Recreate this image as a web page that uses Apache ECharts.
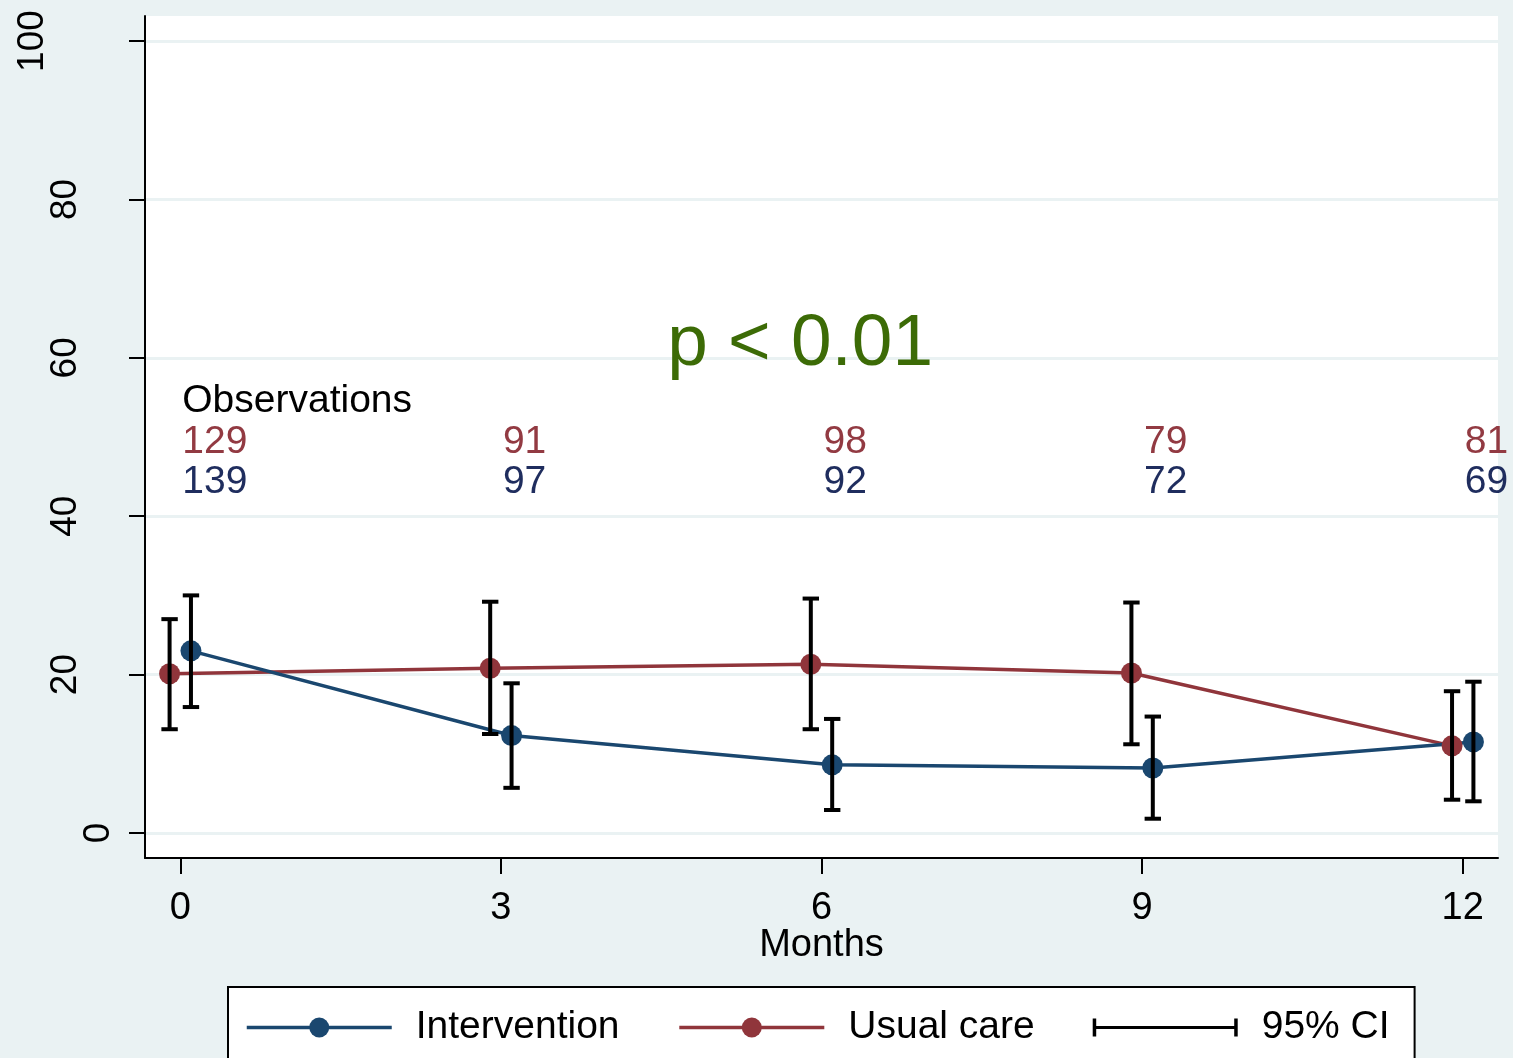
<!DOCTYPE html>
<html>
<head>
<meta charset="utf-8">
<title>Outcome by study arm over 12 months</title>
<style>
  html, body { margin: 0; padding: 0; background: #eaf2f3; }
  #chart { width: 1513px; height: 1058px; }
</style>
<script src="https://cdn.jsdelivr.net/npm/echarts@6/dist/echarts.min.js"></script>
</head>
<body>
<div id="chart"></div>
<script>
// ---- data ----
const months = [0, 3, 6, 9, 12];
const monthTicks = [0, 3, 6, 9, 12];
const percentTicks = [0, 20, 40, 60, 80, 100];

const interventionMean = [23.0, 12.3, 8.6, 8.2, 11.5];
const interventionLo   = [15.9, 5.7, 2.9, 1.8, 4.0];
const interventionHi   = [30.0, 18.9, 14.4, 14.7, 19.1];

const usualMean = [20.1, 20.8, 21.3, 20.2, 11.0];
const usualLo   = [13.1, 12.5, 13.1, 11.2, 4.2];
const usualHi   = [27.0, 29.2, 29.6, 29.1, 17.9];

const obsUsual        = [129, 91, 98, 79, 81];
const obsIntervention = [139, 97, 92, 72, 69];

const obsTitle  = 'Observations';
const pValueText = 'p < 0.01';

// ---- look ----
const FONT = '"Liberation Sans", Arial, "Helvetica Neue", sans-serif';
const NAVY = '#1a476f';
const CRANBERRY = '#90353b';
const OBS_RED = '#923a42';
const OBS_BLUE = '#1f2d5e';
const P_GREEN = '#3c6b06';
const BG = '#eaf2f3';

// the two arms are nudged apart on the month axis so the bars don't overlap
const dodge = 0.1;
// annotation rows (in axis units)
const titleRowY = 54.55, usualRowY = 49.3, interventionRowY = 44.3;
const pX = 5.8, pY = 61.6;

const chart = echarts.init(document.getElementById('chart'), null, { renderer: 'canvas' });

function ciRender(params, api) {
  const x = api.value(0);
  const lo = api.coord([x, api.value(1)]);
  const hi = api.coord([x, api.value(2)]);
  const half = 8.2;
  const style = { stroke: '#000', lineWidth: 4, fill: null, lineCap: 'butt' };
  return {
    type: 'group',
    children: [
      { type: 'line', shape: { x1: hi[0], y1: hi[1], x2: lo[0], y2: lo[1] }, style },
      { type: 'line', shape: { x1: hi[0] - half, y1: hi[1], x2: hi[0] + half, y2: hi[1] }, style },
      { type: 'line', shape: { x1: lo[0] - half, y1: lo[1], x2: lo[0] + half, y2: lo[1] }, style }
    ]
  };
}

function textSeries(points, texts, color, size, align, nudgeX) {
  return {
    type: 'custom',
    coordinateSystem: 'cartesian2d',
    silent: true,
    z: 6,
    data: points,
    renderItem: function (params, api) {
      const p = api.coord([api.value(0), api.value(1)]);
      return {
        type: 'text',
        x: p[0] + nudgeX,
        y: p[1],
        style: {
          text: String(texts[params.dataIndex]),
          fill: color,
          fontSize: size,
          fontFamily: FONT,
          align: align,
          verticalAlign: 'middle'
        }
      };
    }
  };
}

const ciData = months.map((m, i) => [m - dodge, usualLo[i], usualHi[i]])
  .concat(months.map((m, i) => [m + dodge, interventionLo[i], interventionHi[i]]));

const option = {
  backgroundColor: BG,
  animation: false,
  textStyle: { fontFamily: FONT },
  grid: {
    left: 145, right: 15, top: 16, bottom: 200,
    show: true, backgroundColor: '#ffffff', borderWidth: 0,
    containLabel: false, outerBoundsMode: 'none'
  },
  xAxis: {
    type: 'value',
    min: -0.33, max: 12.33,
    name: 'Months',
    nameLocation: 'middle',
    nameGap: 69,
    nameMoveOverlap: false,
    nameTextStyle: { fontSize: 38, color: '#000', fontFamily: FONT },
    axisLine: { show: true, onZero: false, lineStyle: { color: '#000', width: 2 } },
    axisTick: { show: true, customValues: monthTicks, length: 16, lineStyle: { color: '#000', width: 2 } },
    axisLabel: { customValues: monthTicks, fontSize: 38, color: '#000', margin: 32, fontFamily: FONT },
    splitLine: { show: false }
  },
  yAxis: {
    type: 'value',
    min: -3.16, max: 103.16,
    axisLine: { show: true, onZero: false, lineStyle: { color: '#000', width: 2 } },
    axisTick: { show: true, customValues: percentTicks, length: 16, lineStyle: { color: '#000', width: 2 } },
    axisLabel: {
      customValues: percentTicks,
      rotate: 90,
      fontSize: 37,
      lineHeight: 33,
      color: '#000',
      margin: 30,
      fontFamily: FONT,
      // vertical labels step outward with their digit count
      formatter: function (v) { const s = String(v); return s + '\n'.repeat(s.length - 1); }
    },
    splitLine: { show: true, lineStyle: { color: BG, width: 3 } }
  },
  legend: {
    data: [
      { name: 'Intervention' },
      { name: 'Usual care' },
      { name: '95% CI', icon: 'path://M0,3H3.5V10.5H141.5V3H145V21H141.5V13.5H3.5V21H0Z' }
    ],
    left: 228, top: 987,
    orient: 'horizontal',
    itemWidth: 145, itemHeight: 25, itemGap: 58,
    padding: [21, 25, 30, 17],
    backgroundColor: '#ffffff', borderColor: '#000', borderWidth: 2, borderRadius: 0,
    selectedMode: false,
    lineStyle: { width: 3.5 },
    textStyle: { fontSize: 39, color: '#000', fontFamily: FONT, padding: [0, 0, 0, 19] }
  },
  series: [
    {
      name: 'Usual care',
      type: 'line',
      z: 3,
      data: months.map((m, i) => [m - dodge, usualMean[i]]),
      symbol: 'circle', symbolSize: 21,
      lineStyle: { color: CRANBERRY, width: 3.5 },
      itemStyle: { color: CRANBERRY },
      silent: true
    },
    {
      name: 'Intervention',
      type: 'line',
      z: 3,
      data: months.map((m, i) => [m + dodge, interventionMean[i]]),
      symbol: 'circle', symbolSize: 21,
      lineStyle: { color: NAVY, width: 3.5 },
      itemStyle: { color: NAVY },
      silent: true
    },
    {
      name: '95% CI',
      type: 'custom',
      coordinateSystem: 'cartesian2d',
      z: 4,
      silent: true,
      itemStyle: { color: '#000' },
      encode: { x: 0, y: [1, 2] },
      data: ciData,
      renderItem: ciRender
    },
    textSeries([[0, titleRowY]], [obsTitle], '#000', 39, 'left', 2),
    textSeries(months.map(m => [m, usualRowY]), obsUsual, OBS_RED, 39, 'left', 2),
    textSeries(months.map(m => [m, interventionRowY]), obsIntervention, OBS_BLUE, 39, 'left', 2),
    textSeries([[pX, pY]], [pValueText], P_GREEN, 73, 'center', 0)
  ]
};

chart.setOption(option);
</script>
</body>
</html>
